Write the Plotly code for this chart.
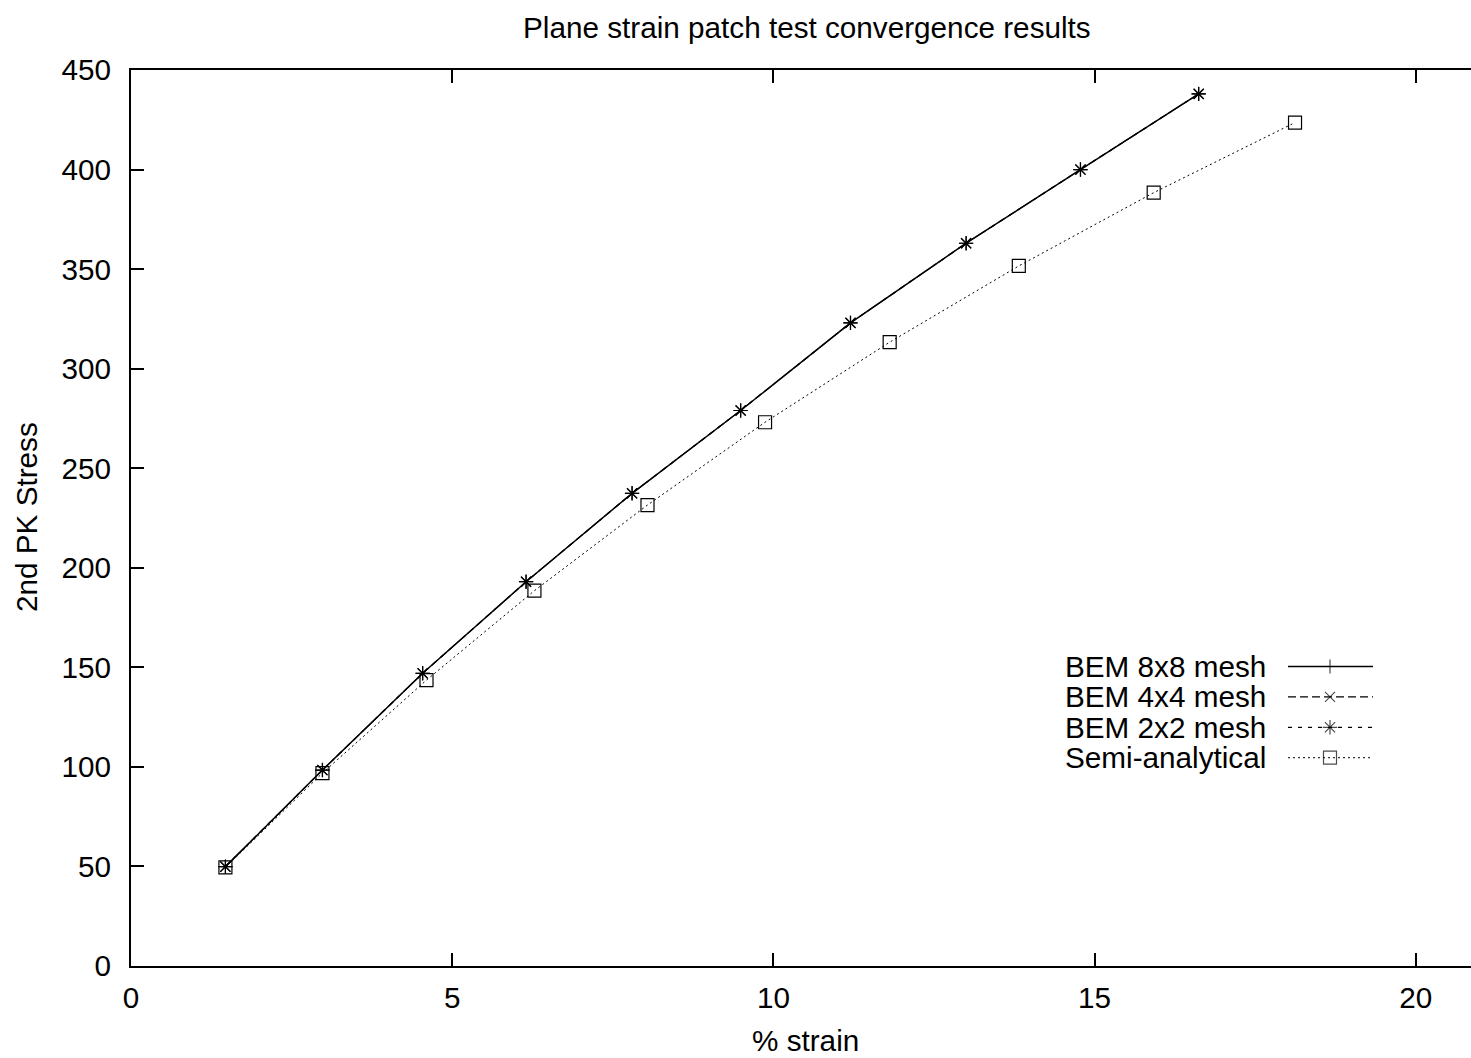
import plotly.graph_objects as go

# ---- data ----
strain_bem = [1.47, 2.98, 4.54, 6.15, 7.80, 9.49, 11.20, 13.00, 14.78, 16.62]
stress_bem8 = [49.9, 98.4, 147.0, 193.0, 237.4, 279.0, 323.0, 363.0, 400.0, 438.0]
stress_bem4 = [49.9, 98.4, 147.0, 193.0, 237.4, 279.0, 323.0, 363.0, 400.0, 438.0]
stress_bem2 = [49.9, 98.4, 147.0, 193.0, 237.4, 279.0, 323.0, 363.0, 400.0, 438.0]
strain_semi = [1.47, 2.98, 4.60, 6.28, 8.04, 9.87, 11.81, 13.82, 15.92, 18.12]
stress_semi = [49.5, 96.9, 143.6, 188.5, 231.5, 273.1, 313.3, 351.6, 388.4, 423.6]

series_names = ["BEM 8x8 mesh", "BEM 4x4 mesh", "BEM 2x2 mesh", "Semi-analytical"]
x_ticks = [0, 5, 10, 15, 20]
y_ticks = [0, 50, 100, 150, 200, 250, 300, 350, 400, 450]

FONT = "Liberation Sans, Arial, sans-serif"
FS = 29.7
W, H = 1471, 1058
L, R, T, B = 131, 0, 70, 92
PW, PH = W - L - R, H - T - B

def px(x):
    return (x - L) / PW

def py(y):
    return (H - B - y) / PH

styles = [
    dict(dash="solid", sym="cross-thin-open", size=10, lw=1.5),
    dict(dash="8px,4px", sym="x-thin-open", size=10, lw=1.2),
    dict(dash="4px,6px", sym="asterisk-open", size=12, lw=1.2),
    dict(dash="2px,3px", sym="square-open", size=13, lw=1.0),
]
series = [
    (strain_bem, stress_bem8),
    (strain_bem, stress_bem4),
    (strain_bem, stress_bem2),
    (strain_semi, stress_semi),
]

fig = go.Figure()
for (xs, ys), name, st in zip(series, series_names, styles):
    fig.add_trace(go.Scatter(
        x=xs, y=ys, mode="lines+markers", name=name, showlegend=False,
        line=dict(color="black", width=st["lw"], dash=st["dash"]),
        marker=dict(symbol=st["sym"], size=st["size"], color="black",
                    line=dict(color="black", width=1.2)),
    ))

# ---- manual legend (text left, sample right, like gnuplot) ----
leg_top_px, leg_step_px = 666.5, 30.4
leg_rows_px = [leg_top_px + i * leg_step_px for i in range(len(series_names))]
text_right_px = 1268
samp_x0, samp_x1, samp_mid = 1288, 1373, 1330
annotations = []
shapes = []
leg_x, leg_y, leg_sym, leg_size = [], [], [], []
for name, st, rpx in zip(series_names, styles, leg_rows_px):
    annotations.append(dict(
        x=px(text_right_px), y=py(rpx), xref="paper", yref="paper",
        text=name, showarrow=False, xanchor="right", yanchor="middle",
        font=dict(family=FONT, size=FS, color="black")))
    shapes.append(dict(
        type="line", xref="paper", yref="paper",
        x0=px(samp_x0), x1=px(samp_x1), y0=py(rpx), y1=py(rpx),
        line=dict(color="black", width=st["lw"], dash=st["dash"])))
    leg_x.append(px(samp_mid))
    leg_y.append(py(rpx))
    leg_sym.append(st["sym"])
    leg_size.append(st["size"])

fig.add_trace(go.Scatter(
    x=leg_x, y=leg_y, mode="markers", xaxis="x2", yaxis="y2", showlegend=False,
    marker=dict(symbol=leg_sym, size=leg_size, color="black",
                line=dict(color="black", width=1.2)),
    hoverinfo="skip"))

# title and axis titles
annotations.append(dict(
    x=px(807), y=py(27), xref="paper", yref="paper",
    text="Plane strain patch test convergence results", showarrow=False,
    xanchor="center", yanchor="middle",
    font=dict(family=FONT, size=FS, color="black")))
annotations.append(dict(
    x=px(806), y=py(1040), xref="paper", yref="paper",
    text="% strain", showarrow=False, xanchor="center", yanchor="middle",
    font=dict(family=FONT, size=FS, color="black")))
annotations.append(dict(
    x=px(26), y=py(517), xref="paper", yref="paper",
    text="2nd PK Stress", showarrow=False, textangle=-90,
    xanchor="center", yanchor="middle",
    font=dict(family=FONT, size=FS, color="black")))

x_max = 0 + (W - L) / 64.24

fig.update_layout(
    width=W, height=H,
    margin=dict(l=L, r=R, t=T, b=B, pad=0),
    paper_bgcolor="white", plot_bgcolor="white",
    font=dict(family=FONT, size=FS, color="black"),
    showlegend=False,
    xaxis=dict(range=[0, x_max], tickvals=x_ticks, ticks="inside", ticklen=13,
               tickwidth=1.5, tickcolor="black", showline=True, linecolor="black",
               linewidth=2, mirror="ticks", showgrid=False, zeroline=False,
               tickfont=dict(family=FONT, size=FS, color="black"),
               ticklabelstandoff=4),
    yaxis=dict(range=[0, 450], tickvals=y_ticks, ticks="inside", ticklen=13,
               tickwidth=1.5, tickcolor="black", showline=True, linecolor="black",
               linewidth=2, mirror=False, showgrid=False, zeroline=False,
               tickfont=dict(family=FONT, size=FS, color="black"),
               ticklabelstandoff=12),
    xaxis2=dict(range=[0, 1], overlaying="x", visible=False, fixedrange=True),
    yaxis2=dict(range=[0, 1], overlaying="y", visible=False, fixedrange=True),
    annotations=annotations,
    shapes=shapes,
)

fig.write_html("out.html")
